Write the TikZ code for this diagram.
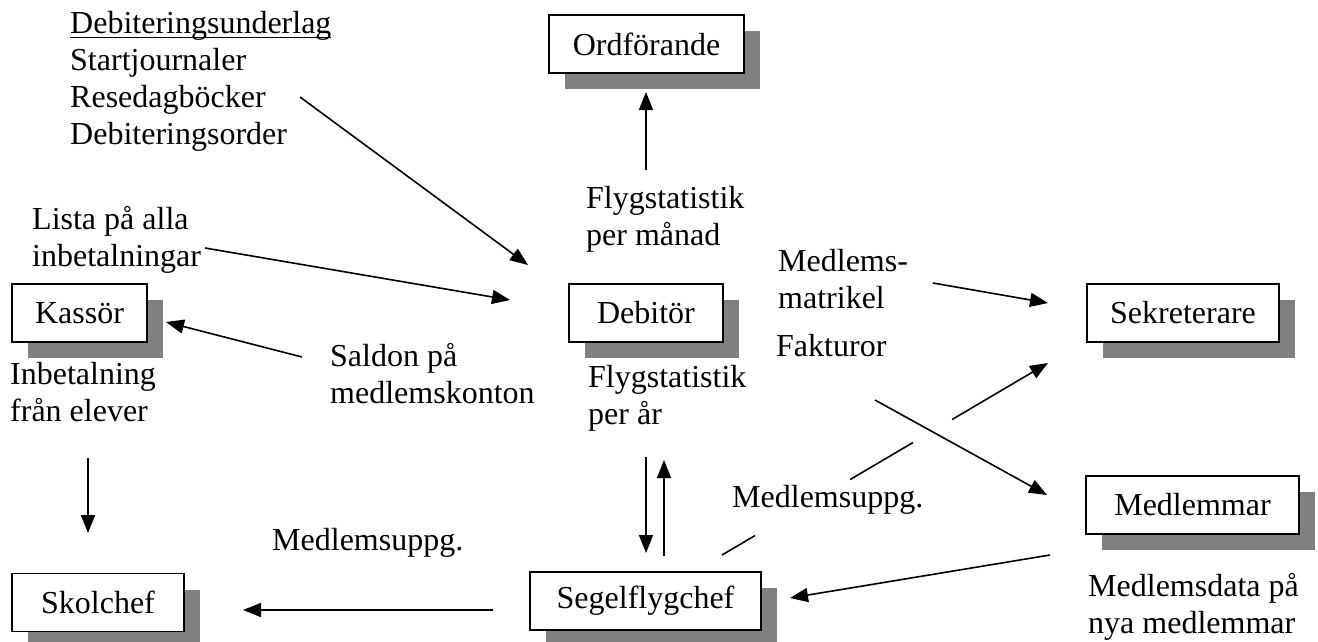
\documentclass[tikz,border=0pt]{standalone}
\usepackage{fontspec}
\setmainfont{Liberation Serif}
\usetikzlibrary{arrows.meta,shadows,calc}
\newcommand{\ulinetext}[1]{{\setbox0\hbox{#1}\rlap{\rule[-5pt]{\wd0}{1.8pt}}\box0}}
\begin{document}
\begin{tikzpicture}[x=1pt,y=-1pt,
  every node/.style={font=\fontsize{32}{37}\selectfont},
  box/.style={draw=black, line width=1.6pt, fill=white, inner sep=0pt, minimum height=58pt,
     drop shadow={shadow xshift=16pt, shadow yshift=-16pt, fill=black!50, opacity=1}},
  lbl/.style={anchor=north west, inner sep=0pt, align=left},
  arr/.style={line width=1.6pt, -{Triangle[length=18pt,width=14pt]}},
  seg/.style={line width=1.6pt}
]
\useasboundingbox (0,0) rectangle (1318,641);

% boxes
\node[box, minimum width=195pt] (ordf) at (646.5,44) {Ordförande};
\node[box, minimum width=154pt] (debitor) at (646,313) {Debitör};
\node[box, minimum width=135pt] (kassor) at (79.5,313) {Kassör};
\node[box, minimum width=192pt] (sekr) at (1183,313) {Sekreterare};
\node[box, minimum width=213pt] (medl) at (1192.5,505) {Medlemmar};
\node[box, minimum width=172pt] (skol) at (98,602.5) {Skolchef};
\node[box, minimum width=231pt] (segel) at (645.5,601) {Segelflygchef};

% labels
\node[lbl] (debunder) at (70,11) {\ulinetext{Debiteringsunderlag}\\Startjournaler\\Resedagböcker\\Debiteringsorder};
\node[lbl] (lista) at (32,206) {Lista på alla\\inbetalningar};
\node[lbl] (saldon) at (330,343) {Saldon på\\medlemskonton};
\node[lbl] (inbet) at (10,362) {Inbetalning\\från elever};
\node[lbl] (flygman) at (586,186) {Flygstatistik\\per månad};
\node[lbl] (matr) at (778,249) {Medlems-\\matrikel};
\node[lbl] (fakt) at (776,334) {Fakturor};
\node[lbl] (flygar) at (588,365) {Flygstatistik\\per år};
\node[lbl] (uppgr) at (732,485) {Medlemsuppg.};
\node[lbl] (uppgl) at (272,528) {Medlemsuppg.};
\node[lbl] (mdata) at (1088,573) {Medlemsdata på\\nya medlemmar};

% connector end points
\coordinate (a1s) at (300,97);   \coordinate (a1e) at (528,265);
\coordinate (a2s) at (205,248);  \coordinate (a2e) at (510,300);
\coordinate (a3s) at (302,357);  \coordinate (a3e) at (166,322);
\coordinate (a4s) at (646,170);  \coordinate (a4e) at (646,92);
\coordinate (a5s) at (933,283);  \coordinate (a5e) at (1048,303);
\coordinate (a6s) at (875,400);  \coordinate (a6e) at (1047,495);
\coordinate (a7s) at (722,555);  \coordinate (a7e) at (1048,363);
\coordinate (a8s) at (88,458);   \coordinate (a8e) at (88,533);
\coordinate (a9s) at (646,457);  \coordinate (a9e) at (646,553);
\coordinate (a10s) at (664,556); \coordinate (a10e) at (664,460);
\coordinate (a11s) at (1050,555);\coordinate (a11e) at (790,598);
\coordinate (a12s) at (493,610); \coordinate (a12e) at (243,610);

% connectors
\draw[arr] (a1s) -- (a1e);
\draw[arr] (a2s) -- (a2e);
\draw[arr] (a3s) -- (a3e);
\draw[arr] (a4s) -- (a4e);
\draw[arr] (a5s) -- (a5e);
\draw[arr] (a6s) -- (a6e);
\draw[seg] (a7s) -- ($(a7s)!0.101!(a7e)$);
\draw[seg] ($(a7s)!0.393!(a7e)$) -- ($(a7s)!0.586!(a7e)$);
\draw[arr] ($(a7s)!0.706!(a7e)$) -- (a7e);
\draw[arr] (a8s) -- (a8e);
\draw[arr] (a9s) -- (a9e);
\draw[arr] (a10s) -- (a10e);
\draw[arr] (a11s) -- (a11e);
\draw[arr] (a12s) -- (a12e);
\end{tikzpicture}
\end{document}
